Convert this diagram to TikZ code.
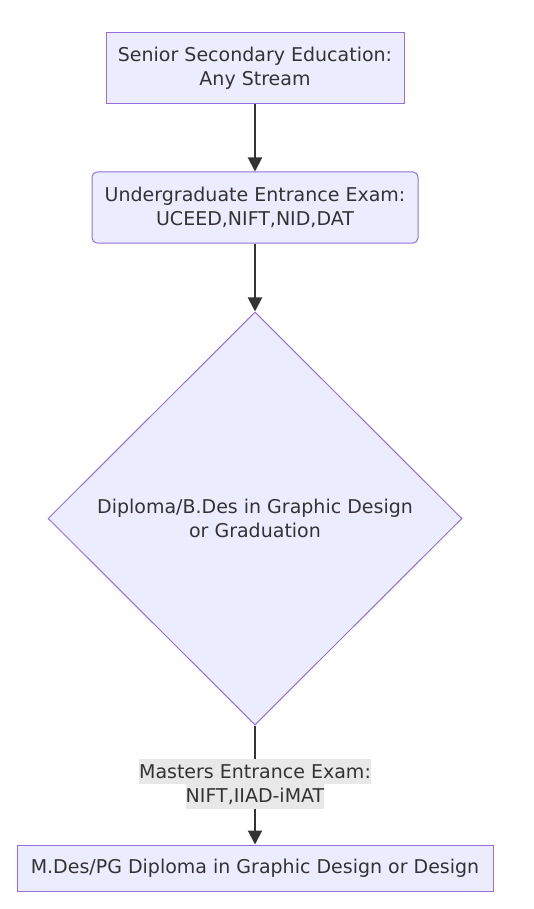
\documentclass[tikz,border=0pt]{standalone}
\usepackage{fontspec}
\setmainfont{DejaVu Sans}
\usepackage{tikz}
\usetikzlibrary{shapes.geometric,arrows.meta}
\definecolor{boxfill}{HTML}{ECECFF}
\definecolor{boxline}{HTML}{9370DB}
\definecolor{ink}{HTML}{333333}
\definecolor{labelbg}{HTML}{E8E8E8}
\tikzset{
  stage/.style={draw=boxline, fill=boxfill, line width=1pt, text=ink,
    align=center, font=\fontsize{19}{24}\selectfont, inner sep=0pt},
  flow/.style={draw=ink, line width=2pt, -{Triangle[length=14pt,width=14pt]}},
  edgelabel/.style={fill=labelbg, text=ink, inner sep=0pt, outer sep=0pt,
    font=\fontsize{19}{24}\selectfont, minimum height=25.5pt}
}
\begin{document}
\begin{tikzpicture}[x=1pt,y=-1pt]
        \useasboundingbox (0,0) rectangle (533,909);
        \node[stage, minimum width=298pt, minimum height=71pt] (senior) at (255,68.5)
            {Senior Secondary Education:\\Any Stream};
        \node[stage, rounded corners=5pt, minimum width=326pt, minimum height=71pt] (ugexam) at (255,207.5)
            {Undergraduate Entrance Exam:\\UCEED,NIFT,NID,DAT};
        \node[stage, diamond, aspect=1, minimum width=414pt, minimum height=413pt] (degree) at (255,518.5)
            {Diploma/B.Des in Graphic Design\\or Graduation};
        \node[stage, minimum width=476pt, minimum height=46pt] (masters) at (255,868)
            {M.Des/PG Diploma in Graphic Design or Design};
        \draw[flow] (senior) -- (ugexam);
        \draw[flow] (ugexam) -- (degree);
        \draw[flow] (degree) -- (masters);
        \node[edgelabel] (pgexam) at (255,771.5) {Masters Entrance Exam:};
        \node[edgelabel] (pglist) at (255,796.5) {NIFT,IIAD-iMAT};
    \end{tikzpicture}
\end{document}
